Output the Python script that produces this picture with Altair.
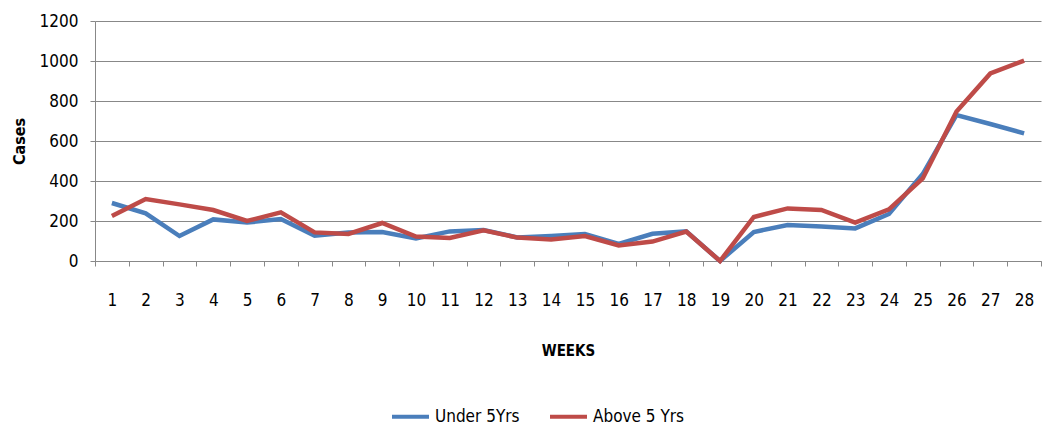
import altair as alt
import pandas as pd

weeks = list(range(1, 29))
under_5 = [290, 238, 125, 208, 192, 210, 127, 142, 145, 113,
           148, 155, 118, 125, 135, 85, 136, 148, 0, 145,
           180, 172, 163, 235, 435, 730, 685, 638]
above_5 = [225, 310, 283, 255, 200, 243, 143, 135, 190, 122,
           115, 153, 117, 107, 125, 78, 97, 147, 0, 220,
           263, 255, 192, 258, 413, 747, 938, 1002]
series_names = ["Under 5Yrs", "Above 5 Yrs"]
series_colors = ["#4A7EBB", "#BE4B48"]
y_ticks = [0, 200, 400, 600, 800, 1000, 1200]

rows = []
for name, vals in zip(series_names, [under_5, above_5]):
    for w, v in zip(weeks, vals):
        rows.append({"week": w, "cases": v, "series": name})
df = pd.DataFrame(rows)

FONT = "DejaVu Sans Condensed, Liberation Sans, sans-serif"
GRID = "#888888"

x_enc = alt.X(
    "week:O",
    bandPosition=0.5,
    scale=alt.Scale(type="band", paddingInner=0, paddingOuter=0),
    axis=alt.Axis(
        title="WEEKS",
        labelAngle=0,
        labelFont=FONT,
        labelFontSize=17,
        labelColor="#000000",
        labelPadding=26,
        labelBaseline="top",
        tickBand="extent",
        tickSize=5,
        tickColor=GRID,
        domainColor=GRID,
        titleFont=FONT,
        titleFontSize=15,
        titleFontWeight="bold",
        titleColor="#000000",
        titleY=82,
        titleBaseline="top",
        grid=False,
    ),
)
y_enc = alt.Y(
    "cases:Q",
    scale=alt.Scale(domain=[0, 1200], nice=False, zero=True),
    axis=alt.Axis(
        title="Cases",
        values=y_ticks,
        format="d",
        labelFont=FONT,
        labelFontSize=17,
        labelColor="#000000",
        labelPadding=12,
        tickSize=5,
        tickColor=GRID,
        domainColor=GRID,
        gridColor=GRID,
        gridWidth=1,
        titleFont=FONT,
        titleFontSize=16,
        titleFontWeight="bold",
        titleColor="#000000",
        titleX=-76,
        titleY=120,
        titleAngle=270,
        titleAlign="center",
        titleBaseline="middle",
    ),
)
color_enc = alt.Color(
    "series:N",
    scale=alt.Scale(domain=series_names, range=series_colors),
    legend=alt.Legend(
        title=None,
        orient="none",
        direction="horizontal",
        legendX=295,
        legendY=375,
        symbolType="stroke",
        symbolSize=1369,
        symbolStrokeWidth=4,
        labelFont=FONT,
        labelFontSize=17,
        labelColor="#000000",
        labelOffset=4,
        columnPadding=22,
        padding=0,
    ),
)

base = alt.Chart(df).encode(x=x_enc, y=y_enc, color=color_enc)

under_line = base.transform_filter(alt.datum.series == series_names[0]).mark_line(
    strokeWidth=4.5
)
above_line = base.transform_filter(alt.datum.series == series_names[1]).mark_line(
    strokeWidth=4.5
)

chart = (
    alt.layer(under_line, above_line)
    .properties(
        width=946,
        height=240,
        autosize=alt.AutoSizeParams(type="none"),
        padding={"left": 95, "top": 21, "right": 1, "bottom": 168},
        background="#ffffff",
    )
    .configure_view(stroke=None)
)

chart.save("out.html", embed_options={"renderer": "svg", "actions": False})
